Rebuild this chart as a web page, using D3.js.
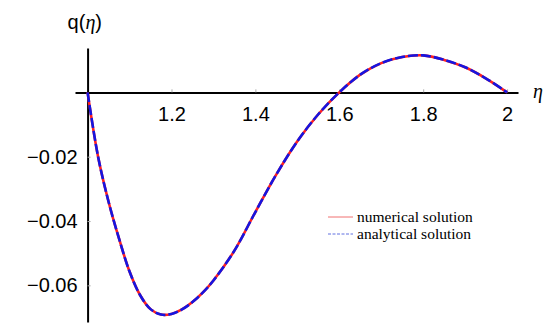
<!DOCTYPE html>
<html>
<head>
<meta charset="utf-8">
<script src="https://cdn.jsdelivr.net/npm/d3@7"></script>
<style>
  body { margin: 0; background: #fff; }
</style>
</head>
<body>
<div id="chart"></div>
<script>
// chart size
var width = 550, height = 335;

// values
var eta = [1.00, 1.025, 1.05, 1.075, 1.10, 1.125, 1.15, 1.175, 1.20, 1.225, 1.25, 1.275,
           1.30, 1.35, 1.40, 1.45, 1.50, 1.55, 1.60, 1.65, 1.70, 1.75, 1.80, 1.85, 1.90, 1.95, 2.00];
var qNumerical = [0, -0.0200, -0.0340, -0.0455, -0.0557, -0.0630, -0.0674, -0.0691, -0.0689, -0.0675,
                  -0.0652, -0.0622, -0.0585, -0.0492, -0.0372, -0.0255, -0.0152, -0.0068, 0,
                  0.0055, 0.0091, 0.0110, 0.0115, 0.0101, 0.0078, 0.0043, 0];
var qAnalytical = qNumerical.slice();

var xTicks = [1.2, 1.4, 1.6, 1.8, 2];
var yTicks = [-0.02, -0.04, -0.06];
var legendLabels = ["numerical solution", "analytical solution"];
var legendColors = ["#ff2020", "#1515e0"];

// scales
var x = d3.scaleLinear().domain([0.97, 2.026]).range([75, 518]);
var y = d3.scaleLinear().domain([-0.0714, 0.0138]).range([322, 48]);

var svg = d3.select("#chart")
    .append("svg")
    .attr("width", width)
    .attr("height", height);

// x axis
var xAxis = svg.append("g")
    .attr("transform", "translate(0," + y(0) + ")")
    .call(d3.axisBottom(x).tickValues(xTicks).tickSize(-3).tickSizeOuter(0)
        .tickFormat(function(d) { return d3.format("")(d); }));
xAxis.select(".domain").attr("stroke", "#000").attr("stroke-width", 2);
xAxis.selectAll(".tick line").attr("stroke", "#aaa");
xAxis.selectAll(".tick text")
    .attr("y", 29).attr("dy", null)
    .attr("font-family", "'Liberation Sans', Arial, sans-serif")
    .attr("font-size", 20)
    .attr("fill", "#000");

// y axis
var yAxis = svg.append("g")
    .attr("transform", "translate(" + x(1) + ",0)")
    .call(d3.axisLeft(y).tickValues(yTicks).tickSize(-3).tickSizeOuter(0)
        .tickFormat(d3.format(".2f")));
yAxis.select(".domain").attr("stroke", "#000").attr("stroke-width", 2);
yAxis.selectAll(".tick line").attr("stroke", "#aaa");
yAxis.selectAll(".tick text")
    .attr("x", -10)
    .attr("font-family", "'Liberation Sans', Arial, sans-serif")
    .attr("font-size", 20)
    .attr("fill", "#000");

// axis titles
var yTitle = svg.append("text")
    .attr("x", x(1) - 20).attr("y", 29)
    .attr("font-family", "'Liberation Sans', Arial, sans-serif")
    .attr("font-size", 20);
yTitle.append("tspan").text("q(");
yTitle.append("tspan").text("η").attr("font-family", "'Liberation Serif', serif").attr("font-style", "italic");
yTitle.append("tspan").text(")");

svg.append("text")
    .attr("x", 533).attr("y", 98)
    .attr("font-family", "'Liberation Serif', serif")
    .attr("font-style", "italic")
    .attr("font-size", 20)
    .text("η");

// curves
var line = d3.line()
    .x(function(d) { return x(d[0]); })
    .y(function(d) { return y(d[1]); })
    .curve(d3.curveCatmullRom.alpha(0.5));

svg.append("path")
    .datum(d3.zip(eta, qNumerical))
    .attr("d", line)
    .attr("fill", "none")
    .attr("stroke", legendColors[0])
    .attr("stroke-width", 2.6);

svg.append("path")
    .datum(d3.zip(eta, qAnalytical))
    .attr("d", line)
    .attr("fill", "none")
    .attr("stroke", legendColors[1])
    .attr("stroke-width", 2.6)
    .attr("stroke-dasharray", "10,3");

// legend
var legend = svg.append("g").selectAll("g")
    .data(legendLabels)
    .enter()
    .append("g")
    .attr("transform", function(d, i) { return "translate(328," + (217 + i * 17) + ")"; });

legend.append("line")
    .attr("x1", 0).attr("x2", 25)
    .attr("stroke", function(d, i) { return i === 0 ? "#f07070" : "#6070e0"; })
    .attr("stroke-width", 1)
    .attr("stroke-dasharray", function(d, i) { return i === 0 ? null : "3,1.5"; });

legend.append("text")
    .attr("x", 29).attr("y", 5)
    .attr("font-family", "'Liberation Serif', 'Times New Roman', serif")
    .attr("font-size", 15.5)
    .text(function(d) { return d; });
</script>
</body>
</html>
